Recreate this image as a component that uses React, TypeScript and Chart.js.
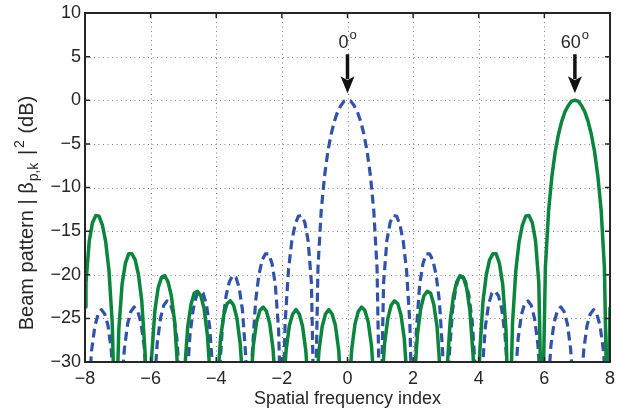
import React, { useEffect, useRef } from 'react';
import { Chart, registerables } from 'chart.js';

Chart.register(...registerables);

// Spatial frequency index samples and beam pattern (dB)
const BLUE_X = [
  -8.0, -7.9, -7.8, -7.7, -7.6, -7.5, -7.4, -7.3, -7.2, -7.1,
  -7.0, -6.9, -6.8, -6.7, -6.6, -6.5, -6.4, -6.3, -6.2, -6.1,
  -6.0, -5.9, -5.8, -5.7, -5.6, -5.5, -5.4, -5.3, -5.2, -5.1,
  -5.0, -4.9, -4.8, -4.7, -4.6, -4.5, -4.4, -4.3, -4.2, -4.1,
  -4.0, -3.9, -3.8, -3.7, -3.6, -3.5, -3.4, -3.3, -3.2, -3.1,
  -3.0, -2.9, -2.8, -2.7, -2.6, -2.5, -2.4, -2.3, -2.2, -2.1,
  -2.0, -1.9, -1.8, -1.7, -1.6, -1.5, -1.4, -1.3, -1.2, -1.1,
  -1.0, -0.9, -0.8, -0.7, -0.6, -0.5, -0.4, -0.3, -0.2, -0.1,
  0.0, 0.1, 0.2, 0.3, 0.4, 0.5, 0.6, 0.7, 0.8, 0.9,
  1.0, 1.1, 1.2, 1.3, 1.4, 1.5, 1.6, 1.7, 1.8, 1.9,
  2.0, 2.1, 2.2, 2.3, 2.4, 2.5, 2.6, 2.7, 2.8, 2.9,
  3.0, 3.1, 3.2, 3.3, 3.4, 3.5, 3.6, 3.7, 3.8, 3.9,
  4.0, 4.1, 4.2, 4.3, 4.4, 4.5, 4.6, 4.7, 4.8, 4.9,
  5.0, 5.1, 5.2, 5.3, 5.4, 5.5, 5.6, 5.7, 5.8, 5.9,
  6.0, 6.1, 6.2, 6.3, 6.4, 6.5, 6.6, 6.7, 6.8, 6.9,
  7.0, 7.1, 7.2, 7.3, 7.4, 7.5, 7.6, 7.7, 7.8, 7.9,
  8.0,
];

const BLUE_DB = [
  -40, -34.3, -28.7, -25.9, -24.5, -24.0, -24.5, -25.8, -28.6, -34.1,
  -40, -34.1, -28.5, -25.6, -24.2, -23.7, -24.1, -25.4, -28.1, -33.6,
  -40, -33.5, -27.9, -25.0, -23.5, -23.0, -23.3, -24.6, -27.3, -32.8,
  -40, -32.5, -26.9, -23.9, -22.4, -21.9, -22.1, -23.4, -26.0, -31.4,
  -40, -31.1, -25.3, -22.4, -20.8, -20.1, -20.3, -21.5, -24.1, -29.4,
  -40, -28.9, -23.0, -20.0, -18.3, -17.6, -17.6, -18.7, -21.1, -26.3,
  -40, -25.5, -19.5, -16.2, -14.3, -13.3, -13.2, -14.0, -16.1, -20.9,
  -40, -19.2, -12.6, -8.7, -5.9, -3.9, -2.4, -1.3, -0.6, -0.1,
  0, -0.1, -0.6, -1.3, -2.4, -3.9, -5.9, -8.7, -12.6, -19.2,
  -40, -20.9, -16.1, -14.0, -13.2, -13.3, -14.3, -16.2, -19.5, -25.5,
  -40, -26.3, -21.1, -18.7, -17.6, -17.6, -18.3, -20.0, -23.0, -28.9,
  -40, -29.4, -24.1, -21.5, -20.3, -20.1, -20.8, -22.4, -25.3, -31.1,
  -40, -31.4, -26.0, -23.4, -22.1, -21.9, -22.4, -23.9, -26.9, -32.5,
  -40, -32.8, -27.3, -24.6, -23.3, -23.0, -23.5, -25.0, -27.9, -33.5,
  -40, -33.6, -28.1, -25.4, -24.1, -23.7, -24.2, -25.6, -28.5, -34.1,
  -40, -34.1, -28.6, -25.8, -24.5, -24.0, -24.5, -25.9, -28.7, -34.3,
  -40,
];

const GREEN_X = [
  -8.0,
  -7.97, -7.87, -7.77, -7.67, -7.57, -7.47, -7.37, -7.27, -7.17, -7.07,
  -6.97, -6.87, -6.77, -6.67, -6.57, -6.47, -6.37, -6.27, -6.17, -6.07,
  -5.97, -5.87, -5.77, -5.67, -5.57, -5.47, -5.37, -5.27, -5.17, -5.07,
  -4.97, -4.87, -4.77, -4.67, -4.57, -4.47, -4.37, -4.27, -4.17, -4.07,
  -3.97, -3.87, -3.77, -3.67, -3.57, -3.47, -3.37, -3.27, -3.17, -3.07,
  -2.97, -2.87, -2.77, -2.67, -2.57, -2.47, -2.37, -2.27, -2.17, -2.07,
  -1.97, -1.87, -1.77, -1.67, -1.57, -1.47, -1.37, -1.27, -1.17, -1.07,
  -0.97, -0.87, -0.77, -0.67, -0.57, -0.47, -0.37, -0.27, -0.17, -0.07,
  0.03, 0.13, 0.23, 0.33, 0.43, 0.53, 0.63, 0.73, 0.83, 0.93,
  1.03, 1.13, 1.23, 1.33, 1.43, 1.53, 1.63, 1.73, 1.83, 1.93,
  2.03, 2.13, 2.23, 2.33, 2.43, 2.53, 2.63, 2.73, 2.83, 2.93,
  3.03, 3.13, 3.23, 3.33, 3.43, 3.53, 3.63, 3.73, 3.83, 3.93,
  4.03, 4.13, 4.23, 4.33, 4.43, 4.53, 4.63, 4.73, 4.83, 4.93,
  5.03, 5.13, 5.23, 5.33, 5.43, 5.53, 5.63, 5.73, 5.83, 5.93,
  6.03, 6.13, 6.23, 6.33, 6.43, 6.53, 6.63, 6.73, 6.83, 6.93,
  7.03, 7.13, 7.23, 7.33, 7.43, 7.53, 7.63, 7.73, 7.83, 7.93,
  8.0,
];

const GREEN_DB = [
  -23.7,
  -20.9, -16.1, -14.0, -13.2, -13.3, -14.3, -16.2, -19.5, -25.5, -40,
  -26.3, -21.1, -18.7, -17.6, -17.6, -18.3, -20.0, -23.0, -28.9, -40,
  -29.4, -24.1, -21.5, -20.3, -20.1, -20.8, -22.4, -25.3, -31.1, -40,
  -31.4, -26.0, -23.4, -22.1, -21.9, -22.4, -23.9, -26.9, -32.5, -40,
  -32.8, -27.3, -24.6, -23.3, -23.0, -23.5, -25.0, -27.9, -33.5, -40,
  -33.6, -28.1, -25.4, -24.1, -23.7, -24.2, -25.6, -28.5, -34.1, -40,
  -34.1, -28.6, -25.8, -24.5, -24.0, -24.5, -25.9, -28.7, -34.3, -40,
  -34.3, -28.7, -25.9, -24.5, -24.0, -24.5, -25.8, -28.6, -34.1, -40,
  -34.1, -28.5, -25.6, -24.2, -23.7, -24.1, -25.4, -28.1, -33.6, -40,
  -33.5, -27.9, -25.0, -23.5, -23.0, -23.3, -24.6, -27.3, -32.8, -40,
  -32.5, -26.9, -23.9, -22.4, -21.9, -22.1, -23.4, -26.0, -31.4, -40,
  -31.1, -25.3, -22.4, -20.8, -20.1, -20.3, -21.5, -24.1, -29.4, -40,
  -28.9, -23.0, -20.0, -18.3, -17.6, -17.6, -18.7, -21.1, -26.3, -40,
  -25.5, -19.5, -16.2, -14.3, -13.3, -13.2, -14.0, -16.1, -20.9, -40,
  -19.2, -12.6, -8.7, -5.9, -3.9, -2.4, -1.3, -0.6, -0.1, 0,
  -0.1, -0.6, -1.3, -2.4, -3.9, -5.9, -8.7, -12.6, -19.2, -40,
  -23.7,
];

// Annotations: steering angle labels and their peak positions
const ANGLE_LABELS = ['0', '60'];
const ANGLE_X = [0, 6.93];
const ANGLE_PEAK_DB = [0, 0];

const X_MIN = -8;
const X_MAX = 8;
const X_STEP = 2;
const Y_MIN = -30;
const Y_MAX = 10;
const Y_STEP = 5;

const X_TITLE = 'Spatial frequency index';
const Y_TITLE_PARTS = [
  { text: 'Beam pattern | \u03B2', kind: 'n', gap: 1 },
  { text: 'p,k', kind: 'sub', gap: 2 },
  { text: ' |', kind: 'n', gap: 2 },
  { text: '2', kind: 'sup', gap: 1 },
  { text: ' (dB)', kind: 'n', gap: 0 },
];

const FONT = '"Liberation Sans", Arial, Helvetica, sans-serif';
const TEXT_COLOR = '#262626';
const BLUE = '#3152a8';
const GREEN = '#0b853d';

const fmt = (v: number) => (v < 0 ? '\u2212' + Math.abs(v) : String(v));

const gridPlugin = {
  id: 'dottedGrid',
  beforeDatasetsDraw(chart: any) {
    const { ctx, chartArea: a, scales } = chart;
    const x = scales.x;
    const y = scales.y;
    ctx.save();
    ctx.strokeStyle = '#808080';
    ctx.lineWidth = 1;
    ctx.setLineDash([1, 3.5]);
    x.ticks.forEach((t: any) => {
      if (t.value <= x.min || t.value >= x.max) return;
      const px = Math.round(x.getPixelForValue(t.value)) + 0.5;
      ctx.beginPath();
      ctx.moveTo(px, a.top);
      ctx.lineTo(px, a.bottom);
      ctx.stroke();
    });
    y.ticks.forEach((t: any) => {
      if (t.value <= y.min || t.value >= y.max) return;
      const py = Math.round(y.getPixelForValue(t.value)) + 0.5;
      ctx.beginPath();
      ctx.moveTo(a.left, py);
      ctx.lineTo(a.right, py);
      ctx.stroke();
    });
    ctx.restore();
  },
};

const framePlugin = {
  id: 'frame',
  afterDatasetsDraw(chart: any) {
    const { ctx, chartArea: a, scales } = chart;
    const x = scales.x;
    const y = scales.y;
    ctx.save();
    ctx.strokeStyle = TEXT_COLOR;
    ctx.setLineDash([]);
    ctx.lineWidth = 1.5;
    const tl = 5;
    x.ticks.forEach((t: any) => {
      const px = x.getPixelForValue(t.value);
      ctx.beginPath();
      ctx.moveTo(px, a.bottom);
      ctx.lineTo(px, a.bottom - tl);
      ctx.moveTo(px, a.top);
      ctx.lineTo(px, a.top + tl);
      ctx.stroke();
    });
    y.ticks.forEach((t: any) => {
      const py = y.getPixelForValue(t.value);
      ctx.beginPath();
      ctx.moveTo(a.left, py);
      ctx.lineTo(a.left + tl, py);
      ctx.moveTo(a.right, py);
      ctx.lineTo(a.right - tl, py);
      ctx.stroke();
    });
    ctx.lineWidth = 2;
    ctx.strokeRect(a.left, a.top, a.right - a.left, a.bottom - a.top);

    // angle annotations with arrows
    ANGLE_LABELS.forEach((label, i) => {
      const px = x.getPixelForValue(ANGLE_X[i]);
      const py = y.getPixelForValue(ANGLE_PEAK_DB[i]);
      const tip = py - 7;
      const headBase = py - 24;
      const shaftTop = py - 46;
      ctx.fillStyle = '#111111';
      ctx.strokeStyle = '#111111';
      ctx.lineWidth = 3.5;
      ctx.beginPath();
      ctx.moveTo(px, shaftTop);
      ctx.lineTo(px, headBase + 3);
      ctx.stroke();
      ctx.beginPath();
      ctx.moveTo(px, tip);
      ctx.lineTo(px - 7, headBase);
      ctx.lineTo(px, headBase + 4);
      ctx.lineTo(px + 7, headBase);
      ctx.closePath();
      ctx.fill();

      ctx.fillStyle = TEXT_COLOR;
      ctx.textBaseline = 'alphabetic';
      ctx.textAlign = 'left';
      ctx.font = `18px ${FONT}`;
      const wm = ctx.measureText(label).width;
      ctx.font = `13px ${FONT}`;
      const ws = ctx.measureText('o').width;
      const total = wm + 1 + ws;
      const sx = px - total / 2;
      const base = py - 52;
      ctx.font = `18px ${FONT}`;
      ctx.fillText(label, sx, base);
      ctx.font = `13px ${FONT}`;
      ctx.fillText('o', sx + wm + 1, base - 9);
    });
    ctx.restore();
  },
};

const yTitlePlugin = {
  id: 'yTitle',
  afterDraw(chart: any) {
    const { ctx } = chart;
    ctx.save();
    const sizes: Record<string, number> = { n: 20, sub: 14, sup: 14 };
    const shift: Record<string, number> = { n: 0, sub: 5, sup: -9 };
    const widths = Y_TITLE_PARTS.map((p) => {
      ctx.font = `${sizes[p.kind]}px ${FONT}`;
      return ctx.measureText(p.text).width + p.gap;
    });
    const total = widths.reduce((s, w) => s + w, 0);
    const centerY = 213;
    const baseX = 33;
    ctx.translate(baseX, centerY + total / 2);
    ctx.rotate(-Math.PI / 2);
    ctx.fillStyle = TEXT_COLOR;
    ctx.textBaseline = 'alphabetic';
    ctx.textAlign = 'left';
    let cx = 0;
    Y_TITLE_PARTS.forEach((p, i) => {
      ctx.font = `${sizes[p.kind]}px ${FONT}`;
      ctx.fillText(p.text, cx, shift[p.kind]);
      cx += widths[i];
    });
    ctx.restore();
  },
};

export default function App() {
  const canvasRef = useRef<HTMLCanvasElement | null>(null);

  useEffect(() => {
    if (!canvasRef.current) return;
    const chart = new Chart(canvasRef.current, {
      type: 'line',
      data: {
        datasets: [
          {
            label: '60°',
            data: GREEN_X.map((x, i) => ({ x, y: GREEN_DB[i] })),
            borderColor: GREEN,
            borderWidth: 3.5,
            pointRadius: 0,
            tension: 0,
            fill: false,
            borderJoinStyle: 'round',
            clip: 0,
          },
          {
            label: '0°',
            data: BLUE_X.map((x, i) => ({ x, y: BLUE_DB[i] })),
            borderColor: BLUE,
            borderWidth: 3.2,
            borderDash: [9, 5],
            pointRadius: 0,
            tension: 0,
            fill: false,
            borderJoinStyle: 'round',
            clip: 0,
          },
        ],
      },
      options: {
        responsive: false,
        animation: false,
        devicePixelRatio: 1,
        layout: { padding: { left: 0, top: 10, right: 15, bottom: 0 } },
        plugins: {
          legend: { display: false },
          tooltip: { enabled: false },
        },
        scales: {
          x: {
            type: 'linear',
            min: X_MIN,
            max: X_MAX,
            grid: { display: false, drawTicks: false },
            border: { display: false },
            ticks: {
              stepSize: X_STEP,
              padding: 6,
              color: TEXT_COLOR,
              maxRotation: 0,
              font: { family: FONT, size: 18, lineHeight: 1.2 },
              callback: (v: any) => fmt(Number(v)),
            },
            title: {
              display: true,
              text: X_TITLE,
              color: TEXT_COLOR,
              font: { family: FONT, size: 18, lineHeight: 1.2 },
              padding: { top: 0, bottom: 3 },
            },
            afterFit: (s: any) => {
              s.height = 51;
            },
          },
          y: {
            type: 'linear',
            min: Y_MIN,
            max: Y_MAX,
            grid: { display: false, drawTicks: false },
            border: { display: false },
            ticks: {
              stepSize: Y_STEP,
              padding: 4,
              color: TEXT_COLOR,
              font: { family: FONT, size: 18, lineHeight: 1 },
              callback: (v: any) => fmt(Number(v)),
            },
            afterFit: (s: any) => {
              s.width = 85;
            },
          },
        },
      } as any,
      plugins: [gridPlugin, framePlugin, yTitlePlugin],
    });
    return () => chart.destroy();
  }, []);

  return (
    <div style={{ position: 'fixed', left: 0, top: 0, width: 625, height: 413, background: '#ffffff' }}>
      <canvas ref={canvasRef} width={625} height={413} style={{ width: 625, height: 413, display: 'block' }} />
    </div>
  );
}
